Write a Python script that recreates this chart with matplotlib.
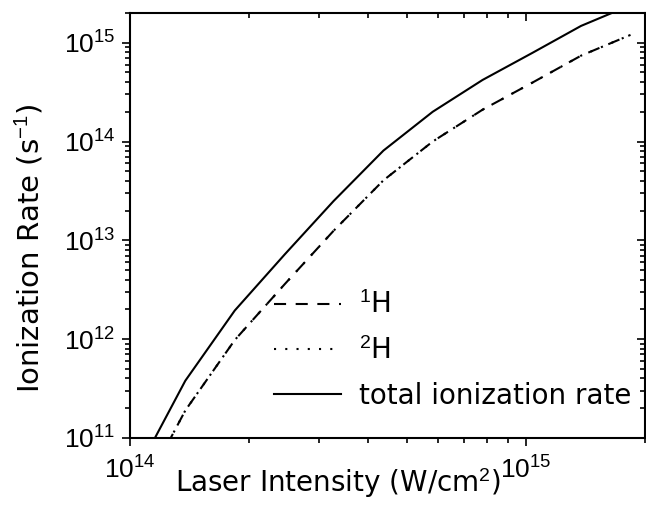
import matplotlib
matplotlib.use('Agg')
import matplotlib.pyplot as plt
import numpy as np

#%%

# laser intensity (W/cm^2)
intensity = [1.04e14, 1.38e14, 1.84e14, 2.46e14, 3.27e14, 4.37e14,
             5.82e14, 7.78e14, 1.04e15, 1.38e15, 1.84e15]

# ionization rates (1/s)
rate_1H = [2.25e10, 1.9e11, 9.8e11, 3.6e12, 1.25e13, 4.05e13,
           1.0e14, 2.1e14, 3.95e14, 7.4e14, 1.2e15]
rate_2H = [2.25e10, 1.9e11, 9.8e11, 3.6e12, 1.25e13, 4.05e13,
           1.0e14, 2.1e14, 3.95e14, 7.4e14, 1.2e15]
rate_total = [4.5e10, 3.8e11, 1.95e12, 7.2e12, 2.5e13, 8.1e13,
              2.0e14, 4.2e14, 7.9e14, 1.48e15, 2.4e15]

labels = ['$^{1}$H', '$^{2}$H', 'total ionization rate']

#%%

plt.rcParams['font.family'] = 'Liberation Sans'
plt.rcParams['mathtext.fontset'] = 'custom'
plt.rcParams['mathtext.rm'] = 'Liberation Sans'
plt.rcParams['mathtext.it'] = 'Liberation Sans:italic'

fig = plt.figure(figsize=(6.46, 5.05), dpi=100)
ax = fig.add_axes([0.2012, 0.1327, 0.797, 0.8416])

ax.plot(intensity, rate_1H, color='black', lw=1.5, dashes=(5.8, 4.6), label=labels[0])
ax.plot(intensity, rate_2H, color='black', lw=1.5, dashes=(1.0, 4.4), label=labels[1])
ax.plot(intensity, rate_total, color='black', lw=1.5, ls='-', label=labels[2])

ax.set_xscale('log')
ax.set_yscale('log')
ax.set_xlim(1e14, 2e15)
ax.set_ylim(1e11, 2e15)

for sp in ax.spines.values():
    sp.set_linewidth(1.5)

ax.tick_params(which='both', top=True, right=True, width=1.2, labelsize=19)
ax.tick_params(which='major', length=5.5)
ax.tick_params(which='minor', length=3.5)
ax.tick_params(axis='x', which='both', pad=8)
ax.tick_params(axis='y', which='both', pad=5)
# origin style: outward on bottom/left, inward on top/right
for t in ax.xaxis.get_major_ticks() + ax.xaxis.get_minor_ticks():
    t.tick2line.set_marker(matplotlib.lines.TICKDOWN)
for t in ax.yaxis.get_major_ticks() + ax.yaxis.get_minor_ticks():
    t.tick2line.set_marker(matplotlib.lines.TICKLEFT)

ax.set_xlabel('Laser Intensity (W/cm$^{2}$)', fontsize=20, family='DejaVu Sans')
ax.xaxis.label.set_va('baseline')
ax.xaxis.set_label_coords(0.404, -0.127)
ax.set_ylabel('Ionization Rate (s$^{-1}$)', fontsize=21, family='DejaVu Sans')
ax.yaxis.label.set_va('baseline')
ax.yaxis.set_label_coords(-0.175, 0.447)

ax.legend(loc='upper left', bbox_to_anchor=(0.28, 0.345), frameon=False,
          prop={'family': 'DejaVu Sans', 'size': 20},
          handlelength=2.4, handletextpad=0.65, labelspacing=0.62,
          borderpad=0, borderaxespad=0)

fig.savefig('out.png', dpi=100)
